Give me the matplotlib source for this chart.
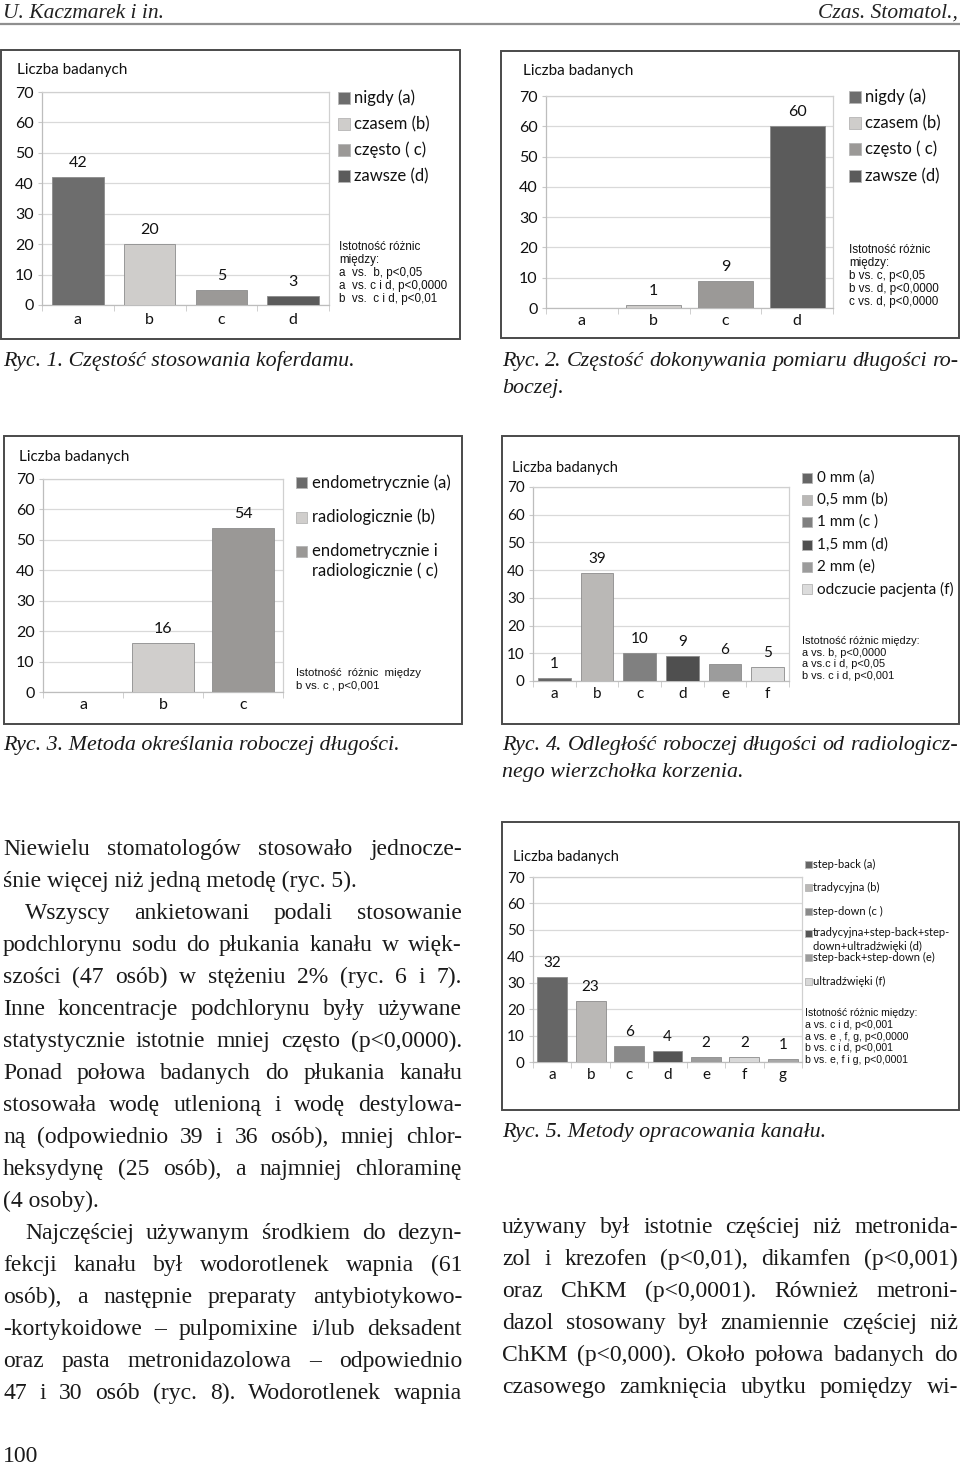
import matplotlib
matplotlib.use('Agg')
import matplotlib.pyplot as plt
from matplotlib.patches import Rectangle
from matplotlib.lines import Line2D

W, H = 960, 1465

# --- data ---
cats1 = ['a', 'b', 'c', 'd']
vals1 = [42, 20, 5, 3]
legend1 = ['nigdy (a)', 'czasem (b)', 'często ( c)', 'zawsze (d)']
stats1 = ['Istotność różnic', 'między:', 'a  vs.  b, p<0,05',
          'a  vs. c i d, p<0,0000', 'b  vs.  c i d, p<0,01']

cats2 = ['a', 'b', 'c', 'd']
vals2 = [0, 1, 9, 60]
legend2 = ['nigdy (a)', 'czasem (b)', 'często ( c)', 'zawsze (d)']
stats2 = ['Istotność różnic', 'między:', 'b vs. c, p<0,05',
          'b vs. d, p<0,0000', 'c vs. d, p<0,0000']

cats3 = ['a', 'b', 'c']
vals3 = [0, 16, 54]
legend3 = ['endometrycznie (a)', 'radiologicznie (b)',
           'endometrycznie i\nradiologicznie ( c)']
stats3 = ['Istotność  różnic  między', 'b vs. c , p<0,001']

cats4 = ['a', 'b', 'c', 'd', 'e', 'f']
vals4 = [1, 39, 10, 9, 6, 5]
legend4 = ['0 mm (a)', '0,5 mm (b)', '1 mm (c )', '1,5 mm (d)', '2 mm (e)',
           'odczucie pacjenta (f)']
stats4 = ['Istotność różnic między:', 'a vs. b, p<0,0000',
          'a vs.c i d, p<0,05', 'b vs. c i d, p<0,001']

cats5 = ['a', 'b', 'c', 'd', 'e', 'f', 'g']
vals5 = [32, 23, 6, 4, 2, 2, 1]
legend5 = ['step-back (a)', 'tradycyjna (b)', 'step-down (c )',
           'tradycyjna+step-back+step-\ndown+ultradźwięki (d)',
           'step-back+step-down (e)', 'ultradźwięki (f)']
stats5 = ['Istotność różnic między:', 'a vs. c i d, p<0,001',
          'a vs. e , f, g, p<0,0000', 'b vs. c i d, p<0,001',
          'b vs. e, f i g, p<0,0001']

col1 = ['#6d6d6d', '#cfcdcb', '#9b9997', '#5b5b5b']
col3 = ['#6a6a6a', '#d0cecc', '#9a9896']
col4 = ['#666666', '#bab8b6', '#808080', '#4f4f4f', '#9c9c9c', '#dcdcdc']
col5 = ['#666666', '#bab8b6', '#8a8a8a', '#555555', '#9c9c9c', '#d8d8d8', '#a8a8a8']

captions = [
    ('Ryc. 1. Częstość stosowania koferdamu.', 3, 352, 366, False),
    ('Ryc. 2. Częstość dokonywania pomiaru długości ro-', 502, 958, 366, True),
    ('boczej.', 502, 958, 393, False),
    ('Ryc. 3. Metoda określania roboczej długości.', 3, 400, 750, False),
    ('Ryc. 4. Odległość roboczej długości od radiologicz-', 502, 958, 750, True),
    ('nego wierzchołka korzenia.', 502, 958, 777, False),
    ('Ryc. 5. Metody opracowania kanału.', 502, 958, 1137, False),
]

left_col = [
    ('Niewielu stomatologów stosowało jednocze-', 0, True),
    ('śnie więcej niż jedną metodę (ryc. 5).', 0, False),
    ('Wszyscy ankietowani podali stosowanie', 22, True),
    ('podchlorynu sodu do płukania kanału w więk-', 0, True),
    ('szości (47 osób) w stężeniu 2% (ryc. 6 i 7).', 0, True),
    ('Inne koncentracje podchlorynu były używane', 0, True),
    ('statystycznie istotnie mniej często (p<0,0000).', 0, True),
    ('Ponad połowa badanych do płukania kanału', 0, True),
    ('stosowała wodę utlenioną i wodę destylowa-', 0, True),
    ('ną (odpowiednio 39 i 36 osób), mniej chlor-', 0, True),
    ('heksydynę (25 osób), a najmniej chloraminę', 0, True),
    ('(4 osoby).', 0, False),
    ('Najczęściej używanym środkiem do dezyn-', 22, True),
    ('fekcji kanału był wodorotlenek wapnia (61', 0, True),
    ('osób), a następnie preparaty antybiotykowo-', 0, True),
    ('-kortykoidowe – pulpomixine i/lub deksadent', 0, True),
    ('oraz pasta metronidazolowa – odpowiednio', 0, True),
    ('47 i 30 osób (ryc. 8). Wodorotlenek wapnia', 0, True),
]
right_col = [
    'używany był istotnie częściej niż metronida-',
    'zol i krezofen (p<0,01), dikamfen (p<0,001)',
    'oraz ChKM (p<0,0001). Również metroni-',
    'dazol stosowany był znamiennie częściej niż',
    'ChKM (p<0,000). Około połowa badanych do',
    'czasowego zamknięcia ubytku pomiędzy wi-',
]

fig = plt.figure(figsize=(9.6, 14.65), dpi=100)
rend = fig.canvas.get_renderer()


def fx(x):
    return x / W


def fy(y):
    return 1 - y / H


def put_line(text, x0, x1, yb, justify, **kw):
    if not justify:
        fig.text(fx(x0), fy(yb), text, va='baseline', ha='left', **kw)
        return
    words = text.split(' ')
    ts = [fig.text(0, fy(yb), w, va='baseline', ha='left', **kw) for w in words]
    ws = [t.get_window_extent(rend).width for t in ts]
    gap = (x1 - x0 - sum(ws)) / (len(words) - 1)
    x = x0
    for t, w in zip(ts, ws):
        t.set_x(fx(x))
        x += w + gap


def chart(box, area, ylab, cats, vals, colors, legend, leg, stats, st, fs, bw, xpad=4):
    bx0, by0, bx1, by1 = box
    fig.add_artist(Rectangle((fx(bx0), fy(by1)), (bx1 - bx0) / W, (by1 - by0) / H,
                             transform=fig.transFigure, fill=False,
                             ec='#4a4a4a', lw=1.4))
    l, t, r, b = area
    ax = fig.add_axes([fx(l), fy(b), (r - l) / W, (b - t) / H])
    xs = range(len(cats))
    ax.bar(xs, vals, width=bw, color=colors[:len(cats)],
           edgecolor='#8c8c8c', linewidth=0.6, zorder=3)
    for x, v in zip(xs, vals):
        if v > 0:
            ax.annotate(str(v), (x, v), xytext=(0, 5), textcoords='offset points',
                        ha='center', va='bottom', fontsize=fs, family='Lato',
                        color='#111111')
    ax.set_xlim(-0.5, len(cats) - 0.5)
    ax.set_ylim(0, 70)
    ax.set_yticks(range(0, 71, 10))
    ax.set_xticks(list(xs))
    ax.set_xticklabels(cats)
    ax.set_xticks([i - 0.5 for i in range(len(cats) + 1)], minor=True)
    ax.tick_params(axis='x', which='major', length=0, pad=xpad, labelsize=fs)
    ax.tick_params(axis='x', which='minor', length=4, color='#c8c8c8')
    ax.tick_params(axis='y', length=3, color='#c8c8c8', pad=3, labelsize=fs)
    for lab in ax.get_xticklabels() + ax.get_yticklabels():
        lab.set_family('Lato')
        lab.set_color('#111111')
    ax.grid(axis='y', color='#d9d9d9', lw=0.9, zorder=0)
    for s in ax.spines.values():
        s.set_color('#d0d0d0')
        s.set_linewidth(0.9)
    ax.spines['left'].set_color('#bdbdbd')
    ax.spines['bottom'].set_color('#bdbdbd')
    fig.text(fx(ylab[0]), fy(ylab[1]), 'Liczba badanych', va='center', ha='left',
             fontsize=fs - 0.5, family='Lato', color='#111111')
    sqx, tx, ys, sq, lfs, lsp = leg
    for c, name, y in zip(colors, legend, ys):
        fig.add_artist(Rectangle((fx(sqx), fy(y + sq / 2)), sq / W, sq / H,
                                 transform=fig.transFigure, fc=c,
                                 ec='#b5b5b5', lw=0.6))
        for k, part in enumerate(name.split('\n')):
            fig.text(fx(tx), fy(y + k * lsp), part, va='center', ha='left',
                     fontsize=lfs, family='Lato', color='#111111')
    sx, sy, sstep, sfs = st
    for k, line in enumerate(stats):
        fig.text(fx(sx), fy(sy + k * sstep), line, va='center', ha='left',
                 fontsize=sfs, family='Liberation Sans', color='#111111')
    return ax


chart((1, 50, 460, 339), (42, 92, 329, 305), (17, 70), cats1, vals1, col1,
      legend1, (338, 354, [98, 124, 150, 176], 12, 12, 20),
      stats1, (339, 247, 13, 8.4), 11.5, 0.72, xpad=6)
chart((501, 51, 959, 338), (546, 96, 833, 308), (523, 71), cats2, vals2, col1,
      legend2, (849, 865, [97, 123, 149, 176], 12, 12, 20),
      stats2, (849, 250, 13, 8.4), 11.5, 0.77)
chart((4, 436, 462, 724), (43, 479, 283, 692), (19, 457), cats3, vals3, col3,
      legend3, (296, 312, [483, 517, 551], 11, 12, 20),
      stats3, (296, 673, 13, 8.2), 11.5, 0.77)
chart((502, 436, 959, 724), (533, 487, 789, 681), (512, 468), cats4, vals4, col4,
      legend4, (802, 817, [478, 500, 522, 545, 567, 589], 10, 11, 20),
      stats4, (802, 641, 11.7, 7.9), 11, 0.77)
chart((502, 822, 959, 1110), (533, 877, 802, 1062), (513, 857), cats5, vals5, col5,
      legend5, (805, 813, [864, 887, 911, 933, 957, 981], 7, 8, 13),
      stats5, (805, 1013, 11.8, 7.6), 11, 0.78)

# header
fig.text(fx(3), fy(18), 'U. Kaczmarek i in.', va='baseline', ha='left',
         fontsize=15.5, family='Liberation Serif', style='italic', color='#222222')
fig.text(fx(958), fy(18), 'Czas. Stomatol.,', va='baseline', ha='right',
         fontsize=15.5, family='Liberation Serif', style='italic', color='#222222')
fig.add_artist(Line2D([0, 1], [fy(23.5), fy(23.5)], transform=fig.transFigure,
                      color='#8f8f8f', lw=1.6))

cap = dict(fontsize=15.8, family='Liberation Serif', color='#1a1a1a', style='italic')
for txt, x0, x1, yb, just in captions:
    put_line(txt, x0, x1, yb, just, **cap)

serif = dict(fontsize=17, family='Liberation Serif', color='#1a1a1a')
for i, (txt, ind, just) in enumerate(left_col):
    put_line(txt, 3 + ind, 462, 855 + 32 * i, just, **serif)
for i, txt in enumerate(right_col):
    put_line(txt, 502, 958, 1233 + 32 * i, True, **serif)

fig.text(fx(3), fy(1462), '100', va='baseline', ha='left', **serif)

fig.savefig('out.png', dpi=100)
